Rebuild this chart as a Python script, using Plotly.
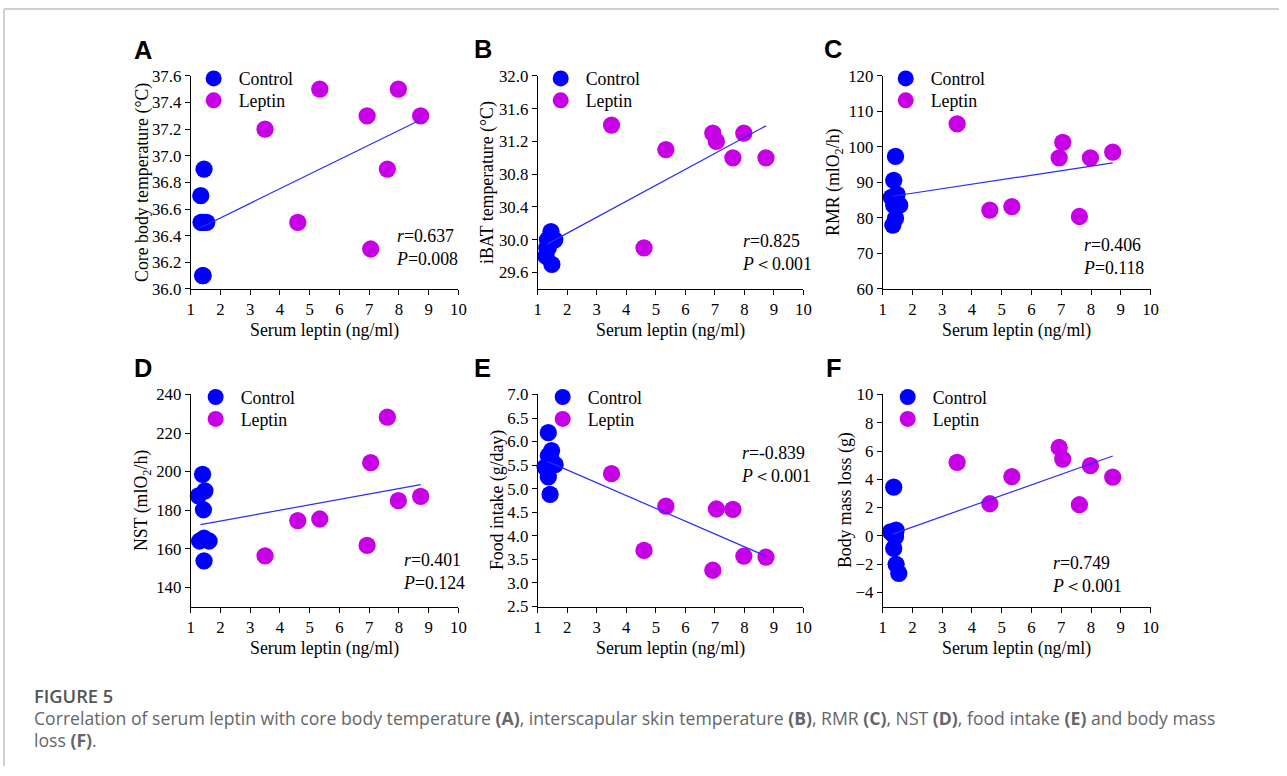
import plotly.graph_objects as go

# ---------------------------------------------------------------- data
# serum leptin (ng/ml) of the leptin-treated animals (shared by all panels)
leptin_x = [3.50, 4.60, 5.34, 6.93, 7.05, 7.61, 7.98, 8.73]

# A: core body temperature (°C)
ctrl_x_a = [1.45, 1.34, 1.35, 1.40, 1.45, 1.54, 1.40, 1.42]
ctrl_a = [36.9, 36.7, 36.5, 36.5, 36.5, 36.5, 36.1, 36.1]
lep_a = [37.2, 36.5, 37.5, 37.3, 36.3, 36.9, 37.5, 37.3]

# B: iBAT temperature (°C)
ctrl_x_b = [1.45, 1.33, 1.40, 1.58, 1.31, 1.36, 1.28, 1.48]
ctrl_b = [30.1, 30.0, 30.0, 30.0, 29.9, 29.9, 29.8, 29.7]
lep_b = [31.4, 29.9, 31.1, 31.3, 31.2, 31.0, 31.3, 31.0]

# C: RMR (mlO2/h)
ctrl_x_c = [1.43, 1.37, 1.29, 1.48, 1.57, 1.37, 1.43, 1.34]
ctrl_c = [97.3, 90.6, 85.8, 86.6, 83.6, 83.6, 79.9, 78.0]
lep_c = [106.5, 82.2, 83.2, 96.9, 101.3, 80.4, 96.9, 98.5]

# D: NST (mlO2/h)
ctrl_x_d = [1.40, 1.48, 1.26, 1.43, 1.30, 1.45, 1.62, 1.45]
ctrl_d = [198.6, 190.0, 187.4, 180.2, 164.0, 165.5, 164.0, 153.7]
lep_d = [156.3, 174.6, 175.4, 161.7, 204.6, 228.2, 184.9, 187.1]

# E: food intake (g/day)
ctrl_x_e = [1.36, 1.47, 1.36, 1.59, 1.25, 1.36, 1.42, 1.45]
ctrl_e = [6.19, 5.81, 5.70, 5.51, 5.46, 5.25, 4.88, 5.63]
lep_e = [5.32, 3.69, 4.63, 3.27, 4.57, 4.56, 3.57, 3.55]

# F: body mass loss (g)
ctrl_x_f = [1.37, 1.26, 1.45, 1.43, 1.37, 1.45, 1.54, 1.35]
ctrl_f = [3.44, 0.28, 0.40, -0.07, -0.89, -2.01, -2.65, 0.10]
lep_f = [5.20, 2.27, 4.19, 6.25, 5.43, 2.20, 4.96, 4.15]

# regression lines (start / end of the fitted range)
fit_x = [1.33, 8.73]
fit_a = [36.46, 37.27]
fit_b = [29.95, 31.39]
fit_c = [86.1, 95.5]
fit_d = [172.5, 193.2]
fit_e = [5.58, 3.57]
fit_f = [0.12, 5.65]

stat_r = ["0.637", "0.825", "0.406", "0.401", "-0.839", "0.749"]
stat_p = ["=0.008", "＜0.001", "=0.118", "=0.124", "＜0.001", "＜0.001"]

letters = ["A", "B", "C", "D", "E", "F"]
y_titles = [
    "Core body temperature (°C)",
    "iBAT temperature (°C)",
    "RMR (mlO<sub>2</sub>/h)",
    "NST (mlO<sub>2</sub>/h)",
    "Food intake (g/day)",
    "Body mass loss (g)",
]
x_title = "Serum leptin (ng/ml)"

# ---------------------------------------------------------------- layout
W, H = 1287, 776
# page margin around the figure and the resulting scale of the final image
M = 8
SX, SY = W / (W + 2 * M), H / (H + 2 * M)
K = 2 / (SX + SY)          # keeps text and marker sizes at their on-screen size

SERIF = "Liberation Serif, Times New Roman, serif"
BLUE = "#0000ff"
MAGENTA = "#c800e6"
LINE_BLUE = "#2b2bff"

col_px = [(194, 461), (540, 805), (884, 1151)]
row_px = [(75, 289), (395, 608)]
legend_rows = [(78, 100), (398, 420)]

panels = [
    dict(cx=ctrl_x_a, cy=ctrl_a, ly=lep_a, fy=fit_a, yr=[36.0, 37.6], t0=36.0, dt=0.2, fmt=".1f",
         ytx=146, lx=215, sx=7.84, sy=36.31),
    dict(cx=ctrl_x_b, cy=ctrl_b, ly=lep_b, fy=fit_b, yr=[29.4, 32.0], t0=29.6, dt=0.4, fmt=".1f",
         ytx=490, lx=561, sx=7.85, sy=29.85),
    dict(cx=ctrl_x_c, cy=ctrl_c, ly=lep_c, fy=fit_c, yr=[60, 120], t0=60, dt=10, fmt="d",
         ytx=836, lx=905, sx=7.68, sy=69.0),
    dict(cx=ctrl_x_d, cy=ctrl_d, ly=lep_d, fy=fit_d, yr=[130, 240], t0=140, dt=20, fmt="d",
         ytx=146, lx=217, sx=8.08, sy=148.2),
    dict(cx=ctrl_x_e, cy=ctrl_e, ly=lep_e, fy=fit_e, yr=[2.5, 7.0], t0=2.5, dt=0.5, fmt=".1f",
         ytx=500, lx=563, sx=7.83, sy=5.51),
    dict(cx=ctrl_x_f, cy=ctrl_f, ly=lep_f, fy=fit_f, yr=[-5, 10], t0=-4, dt=2, fmt="d",
         ytx=847, lx=907, sx=6.63, sy=-2.76),
]
letter_pos = [(146, 49), (485, 48), (834, 48), (146, 368), (485, 368), (835, 368)]


def px_x(p):
    """screen x (px) -> paper x"""
    return min(max((p / SX - M) / W, 0), 1)


def px_y(p):
    """screen y (px, from top) -> paper y"""
    return min(max(1 - (p / SY - M) / H, 0), 1)


def fs(size):
    return round(size * K, 2)


fig = go.Figure()
layout = dict(
    width=W, height=H,
    margin=dict(l=0, r=0, t=0, b=0),
    paper_bgcolor="white", plot_bgcolor="white",
    font=dict(family=SERIF, color="black"),
    annotations=[], shapes=[],
)

for i, p in enumerate(panels):
    n = i + 1
    suf = "" if n == 1 else str(n)
    xa, ya = "x" + suf, "y" + suf
    leg_c = "legend" + ("" if n == 1 else str(2 * n - 1))
    leg_l = "legend" + str(2 * n)
    col, row = col_px[i % 3], row_px[i // 3]

    fig.add_trace(go.Scatter(
        x=p["cx"], y=p["cy"], mode="markers", name="Control",
        marker=dict(color=BLUE, size=fs(17), line=dict(width=0)),
        xaxis=xa, yaxis=ya, legend=leg_c, cliponaxis=False))
    fig.add_trace(go.Scatter(
        x=leptin_x, y=p["ly"], mode="markers", name="Leptin",
        marker=dict(color=MAGENTA, size=fs(17), line=dict(width=0)),
        xaxis=xa, yaxis=ya, legend=leg_l, cliponaxis=False))
    fig.add_trace(go.Scatter(
        x=fit_x, y=p["fy"], mode="lines", showlegend=False,
        line=dict(color=LINE_BLUE, width=1.2),
        xaxis=xa, yaxis=ya, cliponaxis=False))

    axis_common = dict(
        showgrid=False, zeroline=False, showline=True, linecolor="black", linewidth=1,
        ticks="outside", ticklen=5, tickwidth=1, tickcolor="black",
        tickfont=dict(family=SERIF, size=fs(16.5), color="black"), fixedrange=True,
    )
    layout["xaxis" + suf] = dict(
        axis_common, domain=[px_x(col[0]), px_x(col[1])], range=[1, 10],
        tick0=1, dtick=1, anchor=ya)
    layout["yaxis" + suf] = dict(
        axis_common, domain=[px_y(row[1]), px_y(row[0])], range=p["yr"],
        tick0=p["t0"], dtick=p["dt"], tickformat=p["fmt"], anchor=xa)

    # one legend box per entry so each row sits exactly where it belongs
    for leg, ypx in zip((leg_c, leg_l), legend_rows[i // 3]):
        layout[leg] = dict(
            x=px_x(p["lx"] - 23), y=px_y(ypx), xref="paper", yref="paper",
            xanchor="left", yanchor="middle", bgcolor="rgba(0,0,0,0)", borderwidth=0,
            font=dict(family=SERIF, size=fs(17.5), color="black"), itemwidth=40,
            itemclick=False, itemdoubleclick=False,
        )

    # axis titles
    layout["annotations"].append(dict(
        text=x_title, xref="paper", yref="paper",
        x=px_x((col[0] + col[1]) / 2), y=px_y(row[1] + 42),
        xanchor="center", yanchor="middle", showarrow=False,
        font=dict(family=SERIF, size=fs(17.5), color="black")))
    layout["annotations"].append(dict(
        text=y_titles[i], xref="paper", yref="paper", textangle=-90,
        x=px_x(p["ytx"]), y=px_y((row[0] + row[1]) / 2),
        xanchor="center", yanchor="middle", showarrow=False,
        font=dict(family=SERIF, size=fs(17.5), color="black")))

    # correlation statistics
    layout["annotations"].append(dict(
        text="<i>r</i>=" + stat_r[i] + "<br><i>P</i>" + stat_p[i],
        xref=xa, yref=ya, x=p["sx"], y=p["sy"], align="left",
        xanchor="left", yanchor="middle", showarrow=False,
        font=dict(family=SERIF, size=fs(17.5), color="black")))

    # panel letter
    lx, ly = letter_pos[i]
    layout["annotations"].append(dict(
        text="<b>" + letters[i] + "</b>", xref="paper", yref="paper",
        x=px_x(lx), y=px_y(ly), xanchor="center", yanchor="middle", showarrow=False,
        font=dict(family="Liberation Sans, Arial, sans-serif", size=fs(25), color="black")))

# figure caption
CAP = "Open Sans, Noto Sans, sans-serif"
layout["annotations"].append(dict(
    text="FIGURE 5", xref="paper", yref="paper", x=px_x(36), y=px_y(697),
    xanchor="left", yanchor="middle", showarrow=False,
    font=dict(family=CAP, size=fs(18), color="#555555", weight=600)))
layout["annotations"].append(dict(
    text=("Correlation of serum leptin with core body temperature <b>(A)</b>, interscapular "
          "skin temperature <b>(B)</b>, RMR <b>(C)</b>, NST <b>(D)</b>, food intake <b>(E)</b> "
          "and body mass"),
    xref="paper", yref="paper", x=px_x(36), y=px_y(720),
    xanchor="left", yanchor="middle", showarrow=False,
    font=dict(family=CAP, size=fs(17.35), color="#666666")))
layout["annotations"].append(dict(
    text="loss <b>(F)</b>.", xref="paper", yref="paper", x=px_x(36), y=px_y(742),
    xanchor="left", yanchor="middle", showarrow=False,
    font=dict(family=CAP, size=fs(17.35), color="#666666")))

# thin frame along the top and left of the figure
layout["shapes"] = [
    dict(type="line", xref="paper", yref="paper", x0=px_x(4), x1=1, y0=px_y(7), y1=px_y(7),
         line=dict(color="#d0d0d0", width=2)),
    dict(type="line", xref="paper", yref="paper", x0=px_x(4), x1=px_x(4), y0=px_y(7), y1=0,
         line=dict(color="#d0d0d0", width=2)),
]

fig.update_layout(**layout)
fig.write_html("out.html", config=dict(displayModeBar=False))
